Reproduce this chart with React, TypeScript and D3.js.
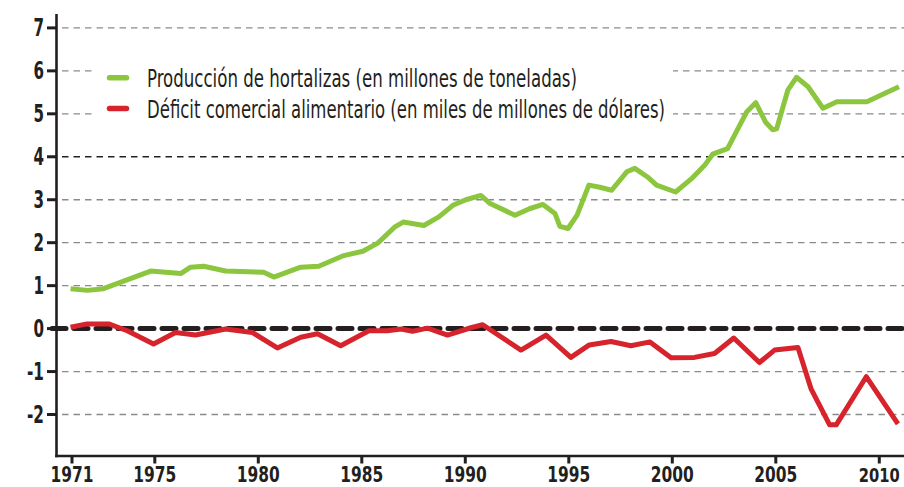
import React from "react";
import * as d3 from "d3";

const greenYears = [1970.93, 1971.75, 1972.52, 1974.8, 1976.25, 1976.73, 1977.36, 1978.42, 1980.26, 1980.75, 1982.05, 1982.92, 1984.13, 1985.05, 1985.77, 1986.58, 1987.0, 1988.0, 1988.72, 1989.4, 1990.03, 1990.75, 1991.2, 1992.4, 1993.1, 1993.75, 1994.33, 1994.57, 1994.96, 1995.4, 1995.97, 1996.5, 1997.07, 1997.8, 1998.19, 1998.8, 1999.24, 2000.16, 2000.93, 2001.56, 2001.95, 2002.67, 2003.6, 2004.03, 2004.5, 2004.85, 2005.04, 2005.58, 2006.0, 2006.56, 2007.28, 2007.95, 2009.4, 2010.95];
const greenValues = [0.93, 0.89, 0.93, 1.34, 1.28, 1.43, 1.45, 1.34, 1.31, 1.2, 1.43, 1.45, 1.7, 1.8, 1.99, 2.36, 2.48, 2.4, 2.6, 2.87, 3.0, 3.1, 2.91, 2.64, 2.79, 2.89, 2.68, 2.38, 2.33, 2.64, 3.34, 3.29, 3.22, 3.65, 3.73, 3.53, 3.34, 3.18, 3.49, 3.8, 4.06, 4.19, 5.05, 5.26, 4.81, 4.63, 4.65, 5.55, 5.85, 5.63, 5.13, 5.28, 5.28, 5.63];

const redYears = [1970.93, 1971.73, 1972.77, 1973.67, 1974.94, 1976.0, 1976.97, 1978.42, 1979.71, 1980.92, 1982.05, 1982.86, 1983.98, 1985.34, 1986.24, 1986.89, 1987.45, 1988.18, 1989.14, 1990.27, 1990.84, 1992.69, 1993.9, 1995.1, 1995.99, 1997.04, 1998.0, 1998.92, 1999.94, 2001.07, 2002.04, 2002.97, 2004.21, 2004.94, 2006.07, 2006.71, 2007.6, 2007.92, 2009.37, 2010.9];
const redValues = [0.03, 0.11, 0.11, -0.05, -0.36, -0.09, -0.15, -0.01, -0.09, -0.45, -0.2, -0.12, -0.4, -0.05, -0.05, -0.01, -0.06, 0.01, -0.15, 0.02, 0.09, -0.5, -0.15, -0.67, -0.38, -0.3, -0.4, -0.31, -0.68, -0.67, -0.58, -0.22, -0.79, -0.5, -0.44, -1.41, -2.24, -2.24, -1.12, -2.22];

const yTicks = [7, 6, 5, 4, 3, 2, 1, 0, -1, -2];
const xTicks = [1971, 1975, 1980, 1985, 1990, 1995, 2000, 2005, 2010];
const legendLabels = [
  "Producción de hortalizas (en millones de toneladas)",
  "Déficit comercial alimentario (en miles de millones de dólares)",
];

const INK = "#231f20";
const GREEN = "#8cc63f";
const RED = "#d6232c";
const FONT = "'Liberation Sans Narrow', 'DejaVu Sans Condensed', 'Roboto', sans-serif";

export default function App() {
  const x = d3.scaleLinear().domain([1971, 2010]).range([72, 879.3]);
  const y = d3.scaleLinear().domain([0, 7]).range([328.6, 27.9]);

  const axisX = 56.5;
  const axisBottom = 456;
  const axisTop = 14;
  const right = 904;

  const line = d3
    .line<[number, number]>()
    .x((d) => x(d[0]))
    .y((d) => y(d[1]));

  const greenPts = greenYears.map((yr, i) => [yr, greenValues[i]] as [number, number]);
  const redPts = redYears.map((yr, i) => [yr, redValues[i]] as [number, number]);

  return (
    <svg
      width={904}
      height={487}
      style={{ position: "absolute", left: 0, top: 0, background: "#fff" }}
      fontFamily={FONT}
    >
      {yTicks
        .filter((t) => t !== 0)
        .map((t) => (
          <line
            key={"g" + t}
            x1={62}
            x2={right}
            y1={y(t)}
            y2={y(t)}
            stroke={t === 4 ? "#222" : "#8a8a8a"}
            strokeWidth={1.3}
            strokeDasharray="6.5,5"
          />
        ))}
      <rect x={94} y={58} width={579} height={70} fill="#fff" />

      <line
        x1={52}
        x2={right + 5}
        y1={y(0)}
        y2={y(0)}
        stroke={INK}
        strokeWidth={5}
        strokeLinecap="round"
        strokeDasharray="14,8"
      />

      <path d={line(greenPts) || ""} fill="none" stroke={GREEN} strokeWidth={5} strokeLinejoin="round" />
      <path d={line(redPts) || ""} fill="none" stroke={RED} strokeWidth={5} strokeLinejoin="round" />

      <line x1={axisX} x2={axisX} y1={axisTop} y2={axisBottom + 1.2} stroke={INK} strokeWidth={2.6} />
      <line x1={axisX - 1.3} x2={right} y1={axisBottom} y2={axisBottom} stroke={INK} strokeWidth={2.6} />

      {yTicks.map((t) => (
        <g key={"yt" + t}>
          <line x1={47} x2={axisX} y1={y(t)} y2={y(t)} stroke={INK} strokeWidth={3} />
          <text
            x={44}
            y={y(t) + 8.5}
            textAnchor="end"
            fontSize={25}
            fontWeight="bold"
            fill={INK}
            textLength={t < 0 ? 17 : 10.5}
            lengthAdjust="spacingAndGlyphs"
          >
            {String(t)}
          </text>
        </g>
      ))}

      {xTicks.map((t) => {
        const last = t === 2010;
        return (
          <g key={"xt" + t}>
            <line x1={x(t)} x2={x(t)} y1={axisBottom} y2={463.5} stroke={INK} strokeWidth={3} />
            <text
              x={last ? x(t) + 20.5 : x(t)}
              y={482}
              textAnchor={last ? "end" : "middle"}
              fontSize={last ? 19 : 21}
              fontWeight="bold"
              fill={INK}
              textLength={last ? 41 : 43}
              lengthAdjust="spacingAndGlyphs"
            >
              {String(t)}
            </text>
          </g>
        );
      })}

      <line x1={109.5} x2={126.5} y1={77.8} y2={77.8} stroke={GREEN} strokeWidth={5.5} strokeLinecap="round" />
      <line x1={109.5} x2={126.5} y1={108.5} y2={108.5} stroke={RED} strokeWidth={5.5} strokeLinecap="round" />
      <text x={147} y={86.5} fontSize={24} fill={INK} textLength={430} lengthAdjust="spacingAndGlyphs">
        {legendLabels[0]}
      </text>
      <text x={147} y={117.5} fontSize={24} fill={INK} textLength={518} lengthAdjust="spacingAndGlyphs">
        {legendLabels[1]}
      </text>
    </svg>
  );
}
